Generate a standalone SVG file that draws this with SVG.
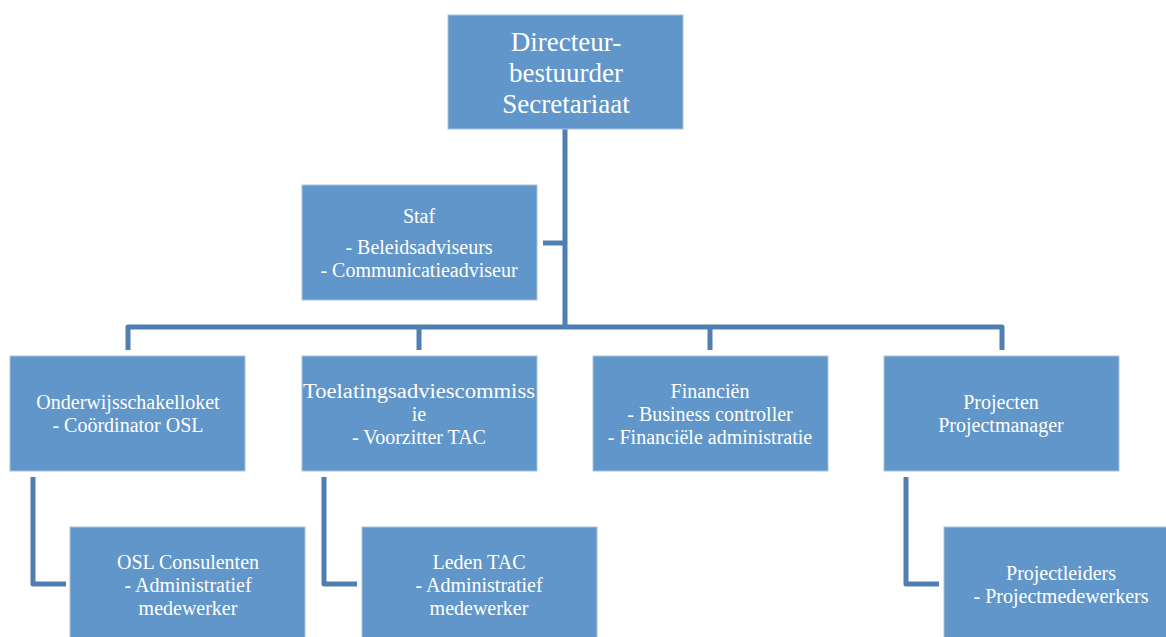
<svg xmlns="http://www.w3.org/2000/svg" width="1166" height="637" viewBox="0 0 1166 637">
<style>
.box{fill:#6096C9;stroke:#A8C3E0;stroke-width:1}
.t{font-family:"Liberation Serif","Times New Roman",serif;font-size:20px;fill:#FFFFFF;text-anchor:middle}
.big{font-size:27px}
.c{fill:none;stroke:#4E7EB2;stroke-width:5;stroke-linejoin:round}
</style>
<rect width="1166" height="637" fill="#FFFFFF"/>
<g id="connectors">
<path class="c" d="M565,129 V327"/>
<path class="c" d="M543,243 H565"/>
<path class="c" d="M128,350 V327 H1002 V350"/>
<path class="c" d="M419,327 V350"/>
<path class="c" d="M710,327 V350"/>
<path class="c" d="M33,477 V584 H66"/>
<path class="c" d="M324,477 V584 H357"/>
<path class="c" d="M906,477 V584 H939"/>
</g>
<g id="directeur">
<rect class="box" x="448" y="15" width="235" height="114"/>
<text class="t big" x="566" y="51">Directeur-</text>
<text class="t big" x="566" y="82">bestuurder</text>
<text class="t big" x="566" y="113">Secretariaat</text>
</g>
<g id="staf">
<rect class="box" x="302" y="185" width="235" height="115"/>
<text class="t" x="419" y="223">Staf</text>
<text class="t" x="419" y="254">- Beleidsadviseurs</text>
<text class="t" x="419" y="277">- Communicatieadviseur</text>
</g>
<g id="onderwijs">
<rect class="box" x="10" y="356" width="235" height="115"/>
<text class="t" x="128" y="409">Onderwijsschakelloket</text>
<text class="t" x="128" y="432">- Coördinator OSL</text>
</g>
<g id="toelating">
<rect class="box" x="302" y="356" width="235" height="115"/>
<text class="t" x="419" y="398" textLength="232" lengthAdjust="spacingAndGlyphs">Toelatingsadviescommiss</text>
<text class="t" x="419" y="421">ie</text>
<text class="t" x="419" y="444">- Voorzitter TAC</text>
</g>
<g id="financien">
<rect class="box" x="593" y="356" width="235" height="115"/>
<text class="t" x="710" y="398">Financiën</text>
<text class="t" x="710" y="421">- Business controller</text>
<text class="t" x="710" y="444">- Financiële administratie</text>
</g>
<g id="projecten">
<rect class="box" x="884" y="356" width="235" height="115"/>
<text class="t" x="1001" y="409">Projecten</text>
<text class="t" x="1001" y="432">Projectmanager</text>
</g>
<g id="osl">
<rect class="box" x="70" y="527" width="235" height="115"/>
<text class="t" x="188" y="569">OSL Consulenten</text>
<text class="t" x="188" y="592">- Administratief</text>
<text class="t" x="188" y="615">medewerker</text>
</g>
<g id="leden">
<rect class="box" x="362" y="527" width="235" height="115"/>
<text class="t" x="479" y="569">Leden TAC</text>
<text class="t" x="479" y="592">- Administratief</text>
<text class="t" x="479" y="615">medewerker</text>
</g>
<g id="projectleiders">
<rect class="box" x="944" y="527" width="235" height="115"/>
<text class="t" x="1061" y="580">Projectleiders</text>
<text class="t" x="1061" y="603">- Projectmedewerkers</text>
</g>
</svg>
